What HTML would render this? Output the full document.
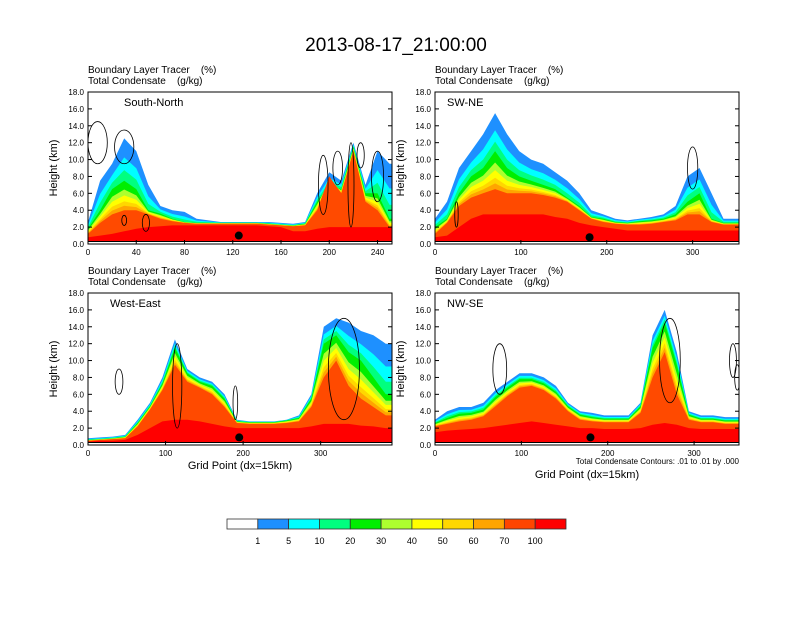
<!DOCTYPE html>
<html><head><meta charset="utf-8"><style>
body{margin:0;background:#fff;width:792px;height:612px;overflow:hidden}
svg text{font-family:"Liberation Sans",sans-serif;fill:#000;white-space:pre}
</style></head><body>
<svg id="s" width="792" height="612" xmlns="http://www.w3.org/2000/svg">
<text x="396" y="51" font-size="19" text-anchor="middle">2013-08-17_21:00:00</text>
</svg>
<script>
// Panel 1 South-North (x 0..250 step 10)
const p1Blue=[2.6,7.5,9.5,12.5,11,7,4.5,4,3.8,3,2.8,2.6,2.6,2.6,2.6,2.6,2.5,2.4,2.6,6,8.5,7.5,12,7,11,9.5];
const p1Green=[1.8,4,6.5,7.5,6.5,4,3.6,3,2.6,2.5,2.5,2.5,2.5,2.5,2.5,2.4,2.3,2.2,2.4,5,7,6.5,11.5,6,6,3];
const p1Orange=[1.2,2.5,3.5,4,4,3.5,3,2.7,2.5,2.4,2.4,2.4,2.4,2.4,2.4,2.3,2.2,2.1,2.2,4,8,6,11,5,4,2];
const p1Red=[0.8,1,1.2,1.5,1.8,2,2.1,2.2,2.2,2.2,2.2,2.2,2.2,2.2,2.2,2.1,2,1.5,1.5,1.8,2,2,2,2,2,2];
const p1Contours=[[8,12,8,2.5],[30,11.5,8,2],[195,7,4,3.5],[218,7,2.5,5],[240,8,5,3],[207,9,4,2],[226,10.5,3,1.5],[48,2.5,3,1],[30,2.8,2,0.6]];
// Panel 2 SW-NE (x 0..350 step 14)
const p2Blue=[3,5,9,11,13,15.5,13,11,10,9.5,8.5,7.5,6,4,3.5,3,2.8,3,3.2,3.5,4.5,8,9,6,3,3];
const p2Green=[2,3,6,8,9,11,9,8,7.5,7,6.5,5.5,4.5,3.2,3,2.6,2.5,2.7,2.8,3,3.5,5,6,3,2.5,2.5];
const p2Orange=[1.2,2.5,4.5,5.5,6,6.5,6,6,6,5.8,5.5,5,4,3,2.6,2.4,2.3,2.3,2.4,2.6,2.8,3.5,3.5,2.6,2.3,2.3];
const p2Red=[0.8,1,2,3,3.5,3.5,3.5,3.5,3.5,3.5,3.2,3,2.5,2.2,2,1.8,1.6,1.6,1.6,1.6,1.6,1.6,1.6,1.6,1.6,1.6];
const p2Contours=[[300,9,6,2.5],[25,3.5,2,1.5]];
// Panel 3 West-East (x 0..384 step 16)
const p3Blue=[0.8,0.9,1,1.2,3,5,8,12.5,9,8,7.5,6,3,2.8,2.8,2.8,3,3.5,6,14,15,14.5,13.5,13,12];
const p3Green=[0.6,0.7,0.8,1,2.6,4.6,7.3,11.5,8.5,7.5,7,5.5,2.8,2.7,2.7,2.7,2.9,3.2,5.5,12,13,11,10,8,6];
const p3Orange=[0.5,0.6,0.7,0.8,2.2,4.2,6.5,9.5,7.5,6.8,6,4.5,2.6,2.5,2.5,2.5,2.6,2.8,4.5,8,10,7,5.5,4.5,3.5];
const p3Red=[0.4,0.5,0.5,0.6,1.2,2,2.8,3,3,2.8,2.5,2.2,2,2,2,2,2,2,2.2,2.5,2.5,2.5,2.3,2.2,2];
const p3Contours=[[115,7,6,5],[330,9,20,6],[40,7.5,5,1.5],[190,5,3,2]];
// Panel 4 NW-SE (x 0..350 step 14)
const p4Blue=[3,4,4.5,4.5,5,6.5,7.5,8.5,8.5,8,7,5,4,3.8,3.5,3.5,3.5,5,13,16,11,4,3.5,3.5,3.3,3.3];
const p4Green=[2.6,3.2,3.7,3.8,4.2,5.7,6.8,7.8,7.8,7.3,6.3,4.6,3.6,3.3,3.1,3.1,3.1,4.6,11.5,14.5,9.5,3.6,3.1,3.1,2.9,2.9];
const p4Orange=[2.2,2.5,2.8,3,3.4,4.6,5.8,6.8,7,6.5,5.5,4,3,2.8,2.7,2.7,2.7,3.8,8,11,6,3,2.7,2.7,2.5,2.5];
const p4Red=[1.5,1.7,1.8,1.9,2,2.2,2.4,2.6,2.8,2.6,2.4,2.2,2,2,1.9,1.9,1.9,2,2.4,2.6,2.4,2,1.9,1.9,1.9,1.9];
const p4Contours=[[272,10,12,5],[75,9,8,3],[345,10,4,2],[350,8,3,1.5]];
const colorLabels=["1","5","10","20","30","40","50","60","70","100"];
const colorFills=["#ffffff","#1e90ff","#00ffff","#00ff7f","#00ee00","#adff2f","#ffff00","#ffd700","#ffa500","#ff4500","#ff0000"];

const NS="http://www.w3.org/2000/svg",svg=document.getElementById('s');
function mk(t,a,p){const e=document.createElementNS(NS,t);for(const k in a)e.setAttribute(k,a[k]);(p||svg).appendChild(e);return e;}
const panels=[
 {x0:88,y0:92,step:10,xmax:252,ticks:[0,40,80,120,160,200,240],label:"South-North",lx:124,b:p1Blue,g:p1Green,o:p1Orange,r:p1Red,c:p1Contours,dot:[125,1.0],xl:false},
 {x0:435,y0:92,step:14,xmax:354,ticks:[0,100,200,300],label:"SW-NE",lx:447,b:p2Blue,g:p2Green,o:p2Orange,r:p2Red,c:p2Contours,dot:[180,0.8],xl:false},
 {x0:88,y0:293,step:16,xmax:392,ticks:[0,100,200,300],label:"West-East",lx:110,b:p3Blue,g:p3Green,o:p3Orange,r:p3Red,c:p3Contours,dot:[195,0.9],xl:true},
 {x0:435,y0:293,step:14,xmax:352,ticks:[0,100,200,300],label:"NW-SE",lx:447,b:p4Blue,g:p4Green,o:p4Orange,r:p4Red,c:p4Contours,dot:[180,0.9],xl:true}];
const W=304,H=152;
panels.forEach((p,i)=>{
 const g=mk('g',{});
 
 
 const X=v=>p.x0+v/p.xmax*W, Y=z=>p.y0+H-z/18*H;
 const cid='c'+i;const cp=mk('clipPath',{id:cid},g);mk('rect',{x:p.x0,y:p.y0,width:W,height:H},cp);
 const fg=mk('g',{'clip-path':'url(#'+cid+')'},g);
 const mix=(a,b,t)=>a.map((v,k)=>v*(1-t)+b[k]*t);
 const layers=[[p.b,"#1e90ff"],[mix(p.b,p.g,0.45),"#00ffff"],[mix(p.b,p.g,0.75),"#00ff7f"],[p.g,"#00ee00"],[mix(p.g,p.o,0.3),"#adff2f"],[mix(p.g,p.o,0.5),"#ffff00"],[mix(p.g,p.o,0.7),"#ffd700"],[mix(p.g,p.o,0.85),"#ffa500"],[p.o,"#ff4a00"],[p.r,"#ff0000"]];
 layers.forEach((L,li)=>{
  let d='M'+X(0)+','+Y(0);
  L[0].forEach((z,k)=>{d+=' L'+X(k*p.step).toFixed(1)+','+Y(z).toFixed(1);});
  d+=' L'+X(p.xmax)+','+Y(L[0][L[0].length-1]).toFixed(1)+' L'+X(p.xmax)+','+Y(0)+'Z';
  const e=mk('path',{d:d,fill:L[1]},fg);
  
  
 });
 p.c.forEach(c=>{
  const e=mk('ellipse',{cx:X(c[0]),cy:Y(c[1]),rx:c[2]/p.xmax*W,ry:c[3]/18*H,fill:'none',stroke:'#000','stroke-width':0.8},fg);
  
  
 });
 const t=mk('rect',{x:p.x0,y:Y(0.3),width:W,height:Y(0)-Y(0.3),fill:'#fff'},fg);
 
 
 mk('line',{x1:p.x0,x2:p.x0+W,y1:Y(0.3),y2:Y(0.3),stroke:'#000','stroke-width':1},fg);
 const dot=mk('circle',{cx:X(p.dot[0]),cy:Y(p.dot[1]),r:4,fill:'#000'},g);
 
 
 const fr=mk('rect',{x:p.x0,y:p.y0,width:W,height:H,fill:'none',stroke:'#000','stroke-width':1},g);
 
 
 for(let z=0;z<=18;z+=2){
  mk('line',{x1:p.x0,x2:p.x0+4,y1:Y(z),y2:Y(z),stroke:'#000'},g);
  mk('line',{x1:p.x0+W,x2:p.x0+W-4,y1:Y(z),y2:Y(z),stroke:'#000'},g);
  const tl=mk('text',{x:p.x0-4,y:Y(z)+3,'font-size':8,'text-anchor':'end'},g);tl.textContent=z.toFixed(1);
  
  
 }
 p.ticks.forEach(v=>{
  mk('line',{x1:X(v),x2:X(v),y1:p.y0+H,y2:p.y0+H-4,stroke:'#000'},g);
  const tl=mk('text',{x:X(v),y:p.y0+H+11,'font-size':8,'text-anchor':'middle'},g);tl.textContent=v;
  
  
 });
 const yl=mk('text',{x:0,y:0,'font-size':11,'text-anchor':'middle',transform:'translate('+(p.x0-31)+','+(p.y0+H/2)+') rotate(-90)'},g);yl.textContent="Height (km)";
 
 
 const h1=mk('text',{x:p.x0,y:p.y0-19,'font-size':10},g);h1.textContent="Boundary Layer Tracer    (%)";
 
 
 const h2=mk('text',{x:p.x0,y:p.y0-8,'font-size':10},g);h2.textContent="Total Condensate    (g/kg)";
 
 
 const lb=mk('text',{x:p.lx,y:p.y0+14,'font-size':11},g);lb.textContent=p.label;
 
 
 if(p.xl){const xl=mk('text',{x:p.x0+W/2,y:p.y0+H+(i==3?33:24),'font-size':11,'text-anchor':'middle'},g);xl.textContent="Grid Point (dx=15km)";
  
  }
});
const note=mk('text',{x:739,y:464,'font-size':8,'text-anchor':'end'});note.textContent="Total Condensate Contours: .01 to .01 by .000";


const cw=(566-227)/colorFills.length;
colorFills.forEach((c,k)=>{
 const r=mk('rect',{x:227+k*cw,y:519,width:cw,height:10,fill:c,stroke:'#333','stroke-width':0.8});
 
 
});
colorLabels.forEach((l,k)=>{
 const t=mk('text',{x:227+(k+1)*cw,y:544,'font-size':9,'text-anchor':'middle'});t.textContent=l;
 
 
});
</script>
</body></html>
